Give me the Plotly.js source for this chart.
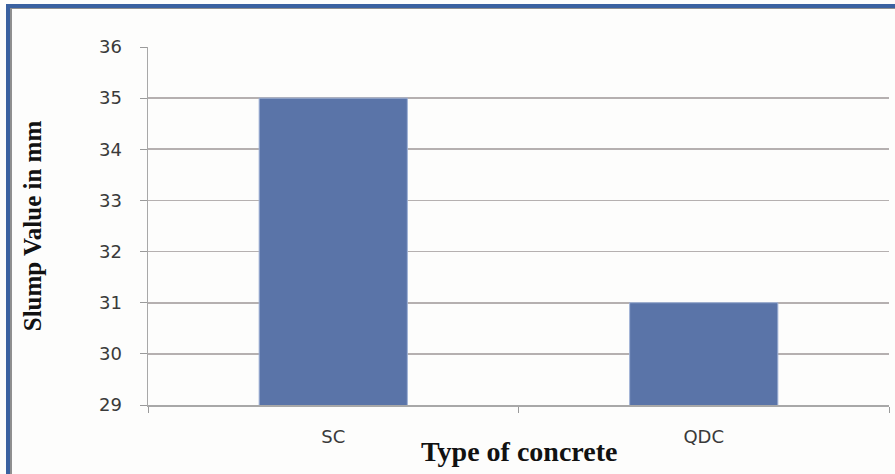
<!DOCTYPE html>
<html>
<head>
<meta charset="utf-8">
<script src="https://cdn.plot.ly/plotly-3.0.1.min.js"></script>
<style>
  html, body { margin: 0; padding: 0; background: #fdfdfc; }
  #wrap { position: relative; width: 895px; height: 474px; overflow: hidden; }
  #chart { position: absolute; left: 0; top: 0; width: 895px; height: 474px; }
  .frame-blue-top { position: absolute; left: 6px; top: 4px; width: 889px; height: 4px; background: #3a61a0; }
  .frame-blue-left { position: absolute; left: 6px; top: 4px; width: 4px; height: 470px; background: #3a61a0; }
  .frame-grey-top { position: absolute; left: 10px; top: 8px; width: 885px; height: 1px; background: #8f8f8f; }
  .frame-grey-left { position: absolute; left: 10px; top: 8px; width: 2px; height: 466px; background: #8f8f8f; }
</style>
</head>
<body>
<div id="wrap">
  <div id="chart"></div>
  <div class="frame-blue-top"></div>
  <div class="frame-blue-left"></div>
  <div class="frame-grey-top"></div>
  <div class="frame-grey-left"></div>
</div>
<script>
// Slump test results per concrete type
const concreteTypes = ['SC', 'QDC'];
const slumpValues = [35, 31];
const yTickValues = [29, 30, 31, 32, 33, 34, 35, 36];
const xTitle = 'Type of concrete';
const yTitle = 'Slump Value in mm';

const trace = {
  type: 'bar',
  x: concreteTypes,
  y: slumpValues,
  width: 0.4,
  marker: {
    color: '#5a74a8',
    line: { color: '#9fb2d6', width: 1 }
  },
  hoverinfo: 'x+y'
};

const layout = {
  width: 895,
  height: 474,
  margin: { l: 148, r: 6, t: 47, b: 69, pad: 0 },
  paper_bgcolor: 'rgba(0,0,0,0)',
  plot_bgcolor: '#fdfdfc',
  showlegend: false,
  bargap: 0.6,
  xaxis: {
    type: 'category',
    tickson: 'boundaries',
    ticks: 'outside',
    ticklen: 6,
    tickwidth: 1,
    tickcolor: '#9a9a9a',
    showline: true,
    linecolor: '#a8a8a8',
    linewidth: 1.5,
    showgrid: false,
    tickfont: { family: 'DejaVu Sans, sans-serif', size: 18, color: '#3a3a3a' },
    ticklabelstandoff: 15
  },
  yaxis: {
    range: [29, 36],
    tickvals: yTickValues,
    ticktext: yTickValues.map(String),
    ticks: 'outside',
    ticklen: 7,
    tickwidth: 1,
    tickcolor: '#9a9a9a',
    showline: true,
    linecolor: '#a8a8a8',
    linewidth: 1.5,
    showgrid: true,
    gridcolor: '#b5b0b0',
    gridwidth: 1.8,
    zeroline: false,
    tickfont: { family: 'DejaVu Sans, sans-serif', size: 18, color: '#3a3a3a' },
    ticklabelstandoff: 14,
    title: {
      text: yTitle,
      font: { family: 'Liberation Serif, Times New Roman, serif', size: 25, color: '#111111', weight: 'bold' },
      standoff: 50
    }
  },
  // x-axis title sits close under the category labels
  annotations: [{
    text: xTitle,
    xref: 'paper', yref: 'paper',
    x: 0.5, y: 0,
    xanchor: 'center', yanchor: 'middle',
    yshift: -46,
    showarrow: false,
    font: { family: 'Liberation Serif, Times New Roman, serif', size: 28, color: '#111111', weight: 'bold' }
  }]
};

Plotly.newPlot('chart', [trace], layout, { displayModeBar: false, staticPlot: true });
</script>
</body>
</html>
